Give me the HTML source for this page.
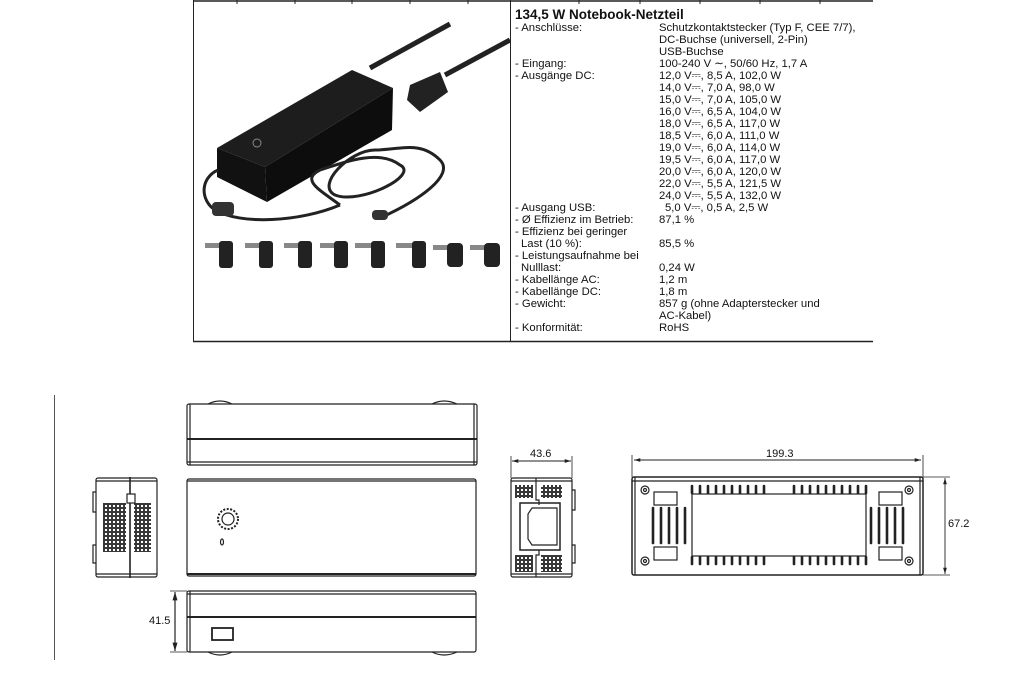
<!DOCTYPE html>
<html><head><meta charset="utf-8"><style>
html,body{margin:0;padding:0;background:#fff;width:1033px;height:688px;overflow:hidden}
svg{display:block}
text{font-family:"Liberation Sans",sans-serif;fill:#111}
</style></head><body>
<svg width="1033" height="688" viewBox="0 0 1033 688" xmlns="http://www.w3.org/2000/svg">
<defs>
<pattern id="g" width="4" height="4" patternUnits="userSpaceOnUse"><rect x="0.5" y="0.5" width="3" height="3" fill="none" stroke="#222" stroke-width="0.9"/></pattern>
<marker id="a" viewBox="0 0 10 10" refX="10" refY="5" markerWidth="7" markerHeight="7" orient="auto-start-reverse"><path d="M0,2 L10,5 L0,8z" fill="#222"/></marker>
</defs>
<line x1="193" y1="1" x2="873" y2="1" stroke="#222" stroke-width="1.5"/>
<g stroke="#222" stroke-width="1"><line x1="237" y1="0" x2="237" y2="4"/><line x1="295" y1="0" x2="295" y2="4"/><line x1="352" y1="0" x2="352" y2="4"/><line x1="410" y1="0" x2="410" y2="4"/><line x1="468" y1="0" x2="468" y2="4"/><line x1="579" y1="0" x2="579" y2="4"/><line x1="640" y1="0" x2="640" y2="4"/><line x1="700" y1="0" x2="700" y2="4"/><line x1="760" y1="0" x2="760" y2="4"/><line x1="820" y1="0" x2="820" y2="4"/></g>
<line x1="193.5" y1="0" x2="193.5" y2="341" stroke="#222"/>
<line x1="510.5" y1="0" x2="510.5" y2="341" stroke="#222"/>
<line x1="193" y1="341.5" x2="873" y2="341.5" stroke="#222" stroke-width="1.5"/>
<g>
<path d="M370,68 L450,24" stroke="#222" stroke-width="5" fill="none"/>
<path d="M445,75 L510,40" stroke="#222" stroke-width="5" fill="none"/>
<polygon points="217,148 352,70 393,88 265,167" fill="#1d1d1d"/>
<polygon points="217,148 265,167 267,202 217,177" fill="#111"/>
<polygon points="265,167 393,88 392,130 267,202" fill="#0d0d0d"/>
<polygon points="410,85 440,72 448,92 420,112 407,100" fill="#222"/>
<circle cx="257" cy="143" r="4" fill="none" stroke="#888" stroke-width="1"/>
<path d="M218,170 C200,178 200,200 215,210 C240,225 300,222 340,205" stroke="#222" stroke-width="3" fill="none"/>
<rect x="212" y="202" width="22" height="14" rx="4" fill="#333"/>
<path d="M340,205 C320,190 300,180 320,170 C350,160 380,150 400,165 C420,175 360,205 335,195 C315,185 350,150 375,150 C400,150 420,140 440,160 C455,175 420,200 380,218" stroke="#222" stroke-width="3" fill="none"/>
<rect x="372" y="210" width="16" height="10" rx="4" fill="#333"/>
<g fill="#222">
<g transform="translate(205,241)"><rect x="0" y="2" width="16" height="5" fill="#888"/><rect x="14" y="0" width="14" height="27" rx="3"/></g>
<g transform="translate(245,241)"><rect x="0" y="2" width="16" height="5" fill="#888"/><rect x="14" y="0" width="14" height="27" rx="3"/></g>
<g transform="translate(284,241)"><rect x="0" y="2" width="16" height="5" fill="#888"/><rect x="14" y="0" width="14" height="27" rx="3"/></g>
<g transform="translate(320,241)"><rect x="0" y="2" width="16" height="5" fill="#888"/><rect x="14" y="0" width="14" height="27" rx="3"/></g>
<g transform="translate(355,241)"><rect x="0" y="2" width="18" height="5" fill="#888"/><rect x="16" y="0" width="14" height="27" rx="3"/></g>
<g transform="translate(396,241)"><rect x="0" y="2" width="18" height="5" fill="#888"/><rect x="16" y="0" width="14" height="27" rx="3"/></g>
<g transform="translate(433,243)"><rect x="0" y="2" width="16" height="5" fill="#888"/><rect x="14" y="0" width="16" height="24" rx="4"/></g>
<g transform="translate(470,243)"><rect x="0" y="2" width="16" height="5" fill="#888"/><rect x="14" y="0" width="16" height="24" rx="4"/></g>
</g>
</g>
<text x="515" y="19" font-size="13.5" font-weight="bold">134,5 W Notebook-Netzteil</text>
<g font-size="11.3">
<text x="515" y="31">- Anschlüsse:</text><text x="659" y="31">Schutzkontaktstecker (Typ F, CEE 7/7),</text>
<text x="659" y="43">DC-Buchse (universell, 2-Pin)</text>
<text x="659" y="55">USB-Buchse</text>
<text x="515" y="67">- Eingang:</text><text x="659" y="67">100-240 V ∼, 50/60 Hz, 1,7 A</text>
<text x="515" y="79">- Ausgänge DC:</text><text x="659" y="79">12,0 V⎓, 8,5 A, 102,0 W</text>
<text x="659" y="91">14,0 V⎓, 7,0 A, 98,0 W</text>
<text x="659" y="103">15,0 V⎓, 7,0 A, 105,0 W</text>
<text x="659" y="115">16,0 V⎓, 6,5 A, 104,0 W</text>
<text x="659" y="127">18,0 V⎓, 6,5 A, 117,0 W</text>
<text x="659" y="139">18,5 V⎓, 6,0 A, 111,0 W</text>
<text x="659" y="151">19,0 V⎓, 6,0 A, 114,0 W</text>
<text x="659" y="163">19,5 V⎓, 6,0 A, 117,0 W</text>
<text x="659" y="175">20,0 V⎓, 6,0 A, 120,0 W</text>
<text x="659" y="187">22,0 V⎓, 5,5 A, 121,5 W</text>
<text x="659" y="199">24,0 V⎓, 5,5 A, 132,0 W</text>
<text x="515" y="211">- Ausgang USB:</text><text x="665" y="211">5,0 V⎓, 0,5 A, 2,5 W</text>
<text x="515" y="223">- Ø Effizienz im Betrieb:</text><text x="659" y="223">87,1 %</text>
<text x="515" y="235">- Effizienz bei geringer</text>
<text x="521" y="247">Last (10 %):</text><text x="659" y="247">85,5 %</text>
<text x="515" y="259">- Leistungsaufnahme bei</text>
<text x="521" y="271">Nulllast:</text><text x="659" y="271">0,24 W</text>
<text x="515" y="283">- Kabellänge AC:</text><text x="659" y="283">1,2 m</text>
<text x="515" y="295">- Kabellänge DC:</text><text x="659" y="295">1,8 m</text>
<text x="515" y="307">- Gewicht:</text><text x="659" y="307">857 g (ohne Adapterstecker und</text>
<text x="659" y="319">AC-Kabel)</text>
<text x="515" y="331">- Konformität:</text><text x="659" y="331">RoHS</text>
</g>
<line x1="54.5" y1="395" x2="54.5" y2="660" stroke="#555"/>
<g fill="none" stroke="#222" stroke-width="1.2">
<path d="M208,404 Q220,398 232,404 M432,404 Q444,398 457,404"/>
<rect x="187" y="404" width="290" height="61" rx="2"/>
<line x1="190" y1="404" x2="190" y2="465"/><line x1="474" y1="404" x2="474" y2="465"/>
<line x1="187" y1="439" x2="477" y2="439" stroke-width="2"/>
<line x1="187" y1="462" x2="477" y2="462"/>
<rect x="187" y="479" width="289" height="97" rx="2"/>
<line x1="187" y1="481" x2="476" y2="481"/><line x1="187" y1="574" x2="476" y2="574" stroke-width="2"/>
<circle cx="228" cy="519" r="6"/>
<circle cx="228" cy="519" r="10" stroke-dasharray="2,1.5" stroke-width="2"/>
<ellipse cx="222" cy="542" rx="1.5" ry="3"/>
<rect x="187" y="591" width="289" height="61" rx="2"/>
<line x1="190" y1="591" x2="190" y2="652"/><line x1="187" y1="594" x2="476" y2="594"/>
<line x1="187" y1="617" x2="476" y2="617" stroke-width="2"/>
<path d="M208,652 Q220,658 232,652 M432,652 Q444,658 457,652"/>
<rect x="212" y="628" width="21" height="12" stroke-width="1.8"/>
<line x1="175" y1="592" x2="175" y2="651" marker-start="url(#a)" marker-end="url(#a)"/>
<line x1="170" y1="591" x2="187" y2="591" stroke-width="0.8"/><line x1="170" y1="652" x2="187" y2="652" stroke-width="0.8"/>
<rect x="96" y="478" width="61" height="99" rx="2"/>
<line x1="130" y1="477" x2="130" y2="578" stroke-width="1.6"/>
<line x1="96" y1="481" x2="157" y2="481"/><line x1="96" y1="574" x2="157" y2="574"/>
<rect x="127" y="494" width="8" height="9" fill="#fff"/>
<path d="M96,492 h-3 v20 h3 M96,545 h-3 v18 h3"/>
<rect x="103" y="503" width="23" height="49" fill="url(#g)" stroke="none"/>
<rect x="134" y="503" width="17" height="49" fill="url(#g)" stroke="none"/>
<rect x="511" y="478" width="61" height="99" rx="2"/>
<line x1="511" y1="481" x2="572" y2="481"/><line x1="511" y1="574" x2="572" y2="574"/>
<path d="M536,478 v22 h3 v5 M536,577 v-22 h3 v-5"/>
<rect x="520" y="503" width="40" height="47" stroke-width="1.5"/>
<path d="M532,508 h25 v37 h-25 l-4,-6 v-25z"/>
<path d="M572,490 h3 v20 h-3 M572,545 h3 v18 h-3"/>
<rect x="515" y="485" width="18" height="13" fill="url(#g)" stroke="none"/>
<rect x="541" y="485" width="21" height="13" fill="url(#g)" stroke="none"/>
<rect x="515" y="555" width="18" height="17" fill="url(#g)" stroke="none"/>
<rect x="541" y="555" width="21" height="17" fill="url(#g)" stroke="none"/>
<line x1="512" y1="461" x2="571" y2="461" marker-start="url(#a)" marker-end="url(#a)" stroke-width="0.9"/>
<line x1="511" y1="456" x2="511" y2="478" stroke-width="0.8"/><line x1="572" y1="456" x2="572" y2="478" stroke-width="0.8"/>
<rect x="632" y="477" width="291" height="98" rx="2" stroke-width="1.5"/>
<line x1="632" y1="481" x2="923" y2="481"/><line x1="635" y1="477" x2="635" y2="575"/><line x1="920" y1="477" x2="920" y2="575"/>
<rect x="692" y="494" width="174" height="62"/>
<g><circle cx="645" cy="490" r="4"/><circle cx="645" cy="490" r="1.5"/><circle cx="909" cy="490" r="4"/><circle cx="909" cy="490" r="1.5"/><circle cx="645" cy="561" r="4"/><circle cx="645" cy="561" r="1.5"/><circle cx="909" cy="561" r="4"/><circle cx="909" cy="561" r="1.5"/></g>
<rect x="654" y="492" width="23" height="13"/><rect x="654" y="547" width="23" height="13"/>
<rect x="879" y="492" width="23" height="13"/><rect x="879" y="547" width="23" height="13"/>
<g stroke-width="2.6" stroke-linecap="round">
<path d="M653,508v35M661,508v35M669,508v35M677,508v35M685,508v35"/>
<path d="M871,508v35M879,508v35M887,508v35M895,508v35M903,508v35"/>
<path d="M692,486v7M700,486v7M708,486v7M716,486v7M724,486v7M732,486v7M740,486v7M748,486v7M756,486v7M764,486v7"/>
<path d="M794,486v7M802,486v7M810,486v7M818,486v7M826,486v7M834,486v7M842,486v7M850,486v7M858,486v7M866,486v7"/>
<path d="M692,557v7M700,557v7M708,557v7M716,557v7M724,557v7M732,557v7M740,557v7M748,557v7M756,557v7M764,557v7"/>
<path d="M794,557v7M802,557v7M810,557v7M818,557v7M826,557v7M834,557v7M842,557v7M850,557v7M858,557v7M866,557v7"/>
</g>
<line x1="634" y1="460" x2="921" y2="460" marker-start="url(#a)" marker-end="url(#a)" stroke-width="0.9"/>
<line x1="632" y1="455" x2="632" y2="477" stroke-width="0.8"/><line x1="923" y1="455" x2="923" y2="477" stroke-width="0.8"/>
<line x1="945" y1="478" x2="945" y2="574" marker-start="url(#a)" marker-end="url(#a)" stroke-width="0.9"/>
<line x1="923" y1="477" x2="950" y2="477" stroke-width="0.8"/><line x1="923" y1="575" x2="950" y2="575" stroke-width="0.8"/>
</g>
<g font-size="11">
<text x="530" y="457">43.6</text>
<text x="766" y="457">199.3</text>
<text x="948" y="527">67.2</text>
<text x="149" y="624">41.5</text>
</g>
</svg>
</body></html>
